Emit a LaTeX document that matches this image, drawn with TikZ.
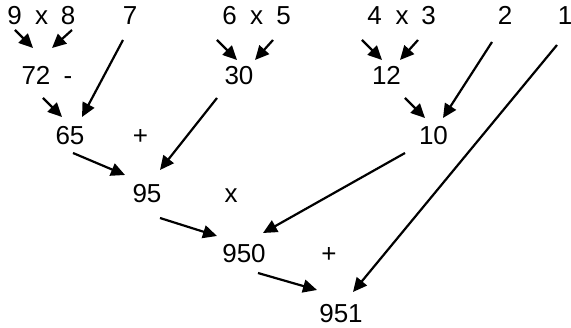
\documentclass[tikz,border=0pt]{standalone}
\usepackage{fontspec}
\setmainfont{Liberation Sans}
\usetikzlibrary{arrows.meta}
\begin{document}
\begin{tikzpicture}[x=1pt,y=-1pt,
  num/.style={anchor=base,inner sep=0pt,font=\fontsize{26}{30}\selectfont},
  arr/.style={line width=2.2pt,-{Triangle[length=14pt,width=13pt]}}]
\useasboundingbox (0,0) rectangle (571,328);
% row 1
\node[num] (n9) at (14.5,25) {9};
\node[num] (x1) at (41.5,25) {x};
\node[num] (n8) at (68,25) {8};
\node[num] (n7) at (130,25) {7};
\node[num] (n6) at (229.5,25) {6};
\node[num] (x2) at (256.5,25) {x};
\node[num] (n5) at (283.5,25) {5};
\node[num] (n4) at (374.5,25) {4};
\node[num] (x3) at (402,25) {x};
\node[num] (n3) at (428.5,25) {3};
\node[num] (n2) at (505,25) {2};
\node[num] (n1) at (565,25) {1};
% row 2
\node[num] (n72) at (36,85) {72};
\node[num] (m1) at (68,85) {-};
\node[num] (n30) at (239,85) {30};
\node[num] (n12) at (386.5,85) {12};
% row 3
\node[num] (n65) at (70,145) {65};
\node[num] (p1) at (140.5,145) {+};
\node[num] (n10) at (433.5,145) {10};
% row 4
\node[num] (n95) at (147,203) {95};
\node[num] (x4) at (231,203) {x};
% row 5
\node[num] (n950) at (244,263) {950};
\node[num] (p2) at (329,263) {+};
% row 6
\node[num] (n951) at (341,323) {951};
% arrows
\draw[arr] ([shift={(0.5,5)}]n9.base) -- ([shift={(-3,-37)}]n72.base);
\draw[arr] ([shift={(4,5)}]n8.base) -- ([shift={(16,-37)}]n72.base);
\draw[arr] ([shift={(-7,15)}]n7.base) -- ([shift={(12,-28)}]n65.base);
\draw[arr] ([shift={(7,13)}]n72.base) -- ([shift={(-8,-28)}]n65.base);
\draw[arr] ([shift={(-12.5,15)}]n6.base) -- ([shift={(-2,-25)}]n30.base);
\draw[arr] ([shift={(-10.5,15)}]n5.base) -- ([shift={(16,-25)}]n30.base);
\draw[arr] ([shift={(-22,13)}]n30.base) -- ([shift={(13,-33)}]n95.base);
\draw[arr] ([shift={(3,8)}]n65.base) -- ([shift={(-22,-28)}]n95.base);
\draw[arr] ([shift={(-12.5,15)}]n4.base) -- ([shift={(-4.5,-25)}]n12.base);
\draw[arr] ([shift={(-10.5,15)}]n3.base) -- ([shift={(13.5,-25)}]n12.base);
\draw[arr] ([shift={(18.5,13)}]n12.base) -- ([shift={(-8.5,-27)}]n10.base);
\draw[arr] ([shift={(-13,17)}]n2.base) -- ([shift={(9.5,-27)}]n10.base);
\draw[arr] ([shift={(-28.5,8)}]n10.base) -- ([shift={(19,-30)}]n950.base);
\draw[arr] ([shift={(13,15)}]n95.base) -- ([shift={(-27,-27)}]n950.base);
\draw[arr] ([shift={(14,10)}]n950.base) -- ([shift={(-24,-33)}]n951.base);
\draw[arr] ([shift={(-8,20)}]n1.base) -- ([shift={(12,-31)}]n951.base);
\end{tikzpicture}
\end{document}
